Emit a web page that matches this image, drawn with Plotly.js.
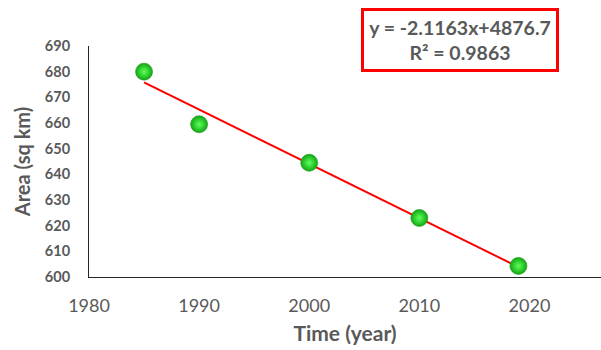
<!DOCTYPE html>
<html>
<head>
<meta charset="utf-8">
<script src="https://cdn.plot.ly/plotly-3.0.1.min.js"></script>
<style>html,body{margin:0;padding:0;background:#fff;}#chart{width:601px;height:350px;}</style>
</head>
<body>
<div id="chart"></div>
<script>
const years = [1985, 1990, 2000, 2010, 2019];
const areas = [680, 659.5, 644.5, 623, 604.3];
const trendSlope = -2.1163;
const trendIntercept = 4876.7;
const equationText = "y = -2.1163x+4876.7";
const r2Text = "R² = 0.9863";
const xTicks = [1980, 1990, 2000, 2010, 2020];
const yTicks = [600, 610, 620, 630, 640, 650, 660, 670, 680, 690];

const trendX = [years[0], years[years.length - 1]];
const trendY = trendX.map(x => trendSlope * x + trendIntercept);

const gray = '#595959';
const fam = 'Lato, "Open Sans", sans-serif';
const data = [
  {x: trendX, y: trendY, mode: 'lines', type: 'scatter',
   line: {color: '#ff0000', width: 2}, hoverinfo: 'skip', showlegend: false},
  {x: years, y: areas, mode: 'markers', type: 'scatter',
   marker: {size: 17, color: '#12a812', gradient: {type: 'radial', color: '#5cff5c'},
            line: {color: '#1a961a', width: 0.6}}, showlegend: false}
];
const layout = {
  width: 601, height: 350,
  margin: {l: 89, r: 0, t: 46, b: 73},
  paper_bgcolor: '#fff', plot_bgcolor: '#fff',
  font: {family: fam, color: gray},
  xaxis: {
    range: [1980, 2026.5], tickvals: xTicks, ticktext: xTicks.map(String),
    showgrid: false, zeroline: false, showline: true, linecolor: '#262626', linewidth: 1,
    ticks: '', ticklabelstandoff: 12,
    tickfont: {size: 18, color: gray, family: fam},
    title: {text: '<b>Time (year)</b>', font: {size: 21, color: gray, family: fam}, standoff: 11}
  },
  yaxis: {
    range: [600, 690], tickvals: yTicks, ticktext: yTicks.map(String),
    showgrid: false, zeroline: false, showline: true, linecolor: '#262626', linewidth: 1,
    ticks: '', ticklabelstandoff: 15,
    tickfont: {size: 14.5, color: gray, family: fam, weight: 'bold'},
    title: {text: '<b>Area (sq km)</b>', font: {size: 20, color: gray, family: fam}, standoff: 8}
  },
  annotations: [{
    xref: 'paper', yref: 'paper', x: (460 - 89) / 512, y: (350 - 73 - 40) / 231,
    xanchor: 'center', yanchor: 'middle', showarrow: false,
    text: '<b>' + equationText + '</b><br><b>' + r2Text + '</b>',
    font: {size: 19.5, color: gray, family: fam},
    bordercolor: '#ff0000', borderwidth: 3, borderpad: 2, bgcolor: '#fff',
    width: 188, height: 54, align: 'center'
  }]
};
Plotly.newPlot('chart', data, layout, {displayModeBar: false, staticPlot: true});
</script>
</body>
</html>
